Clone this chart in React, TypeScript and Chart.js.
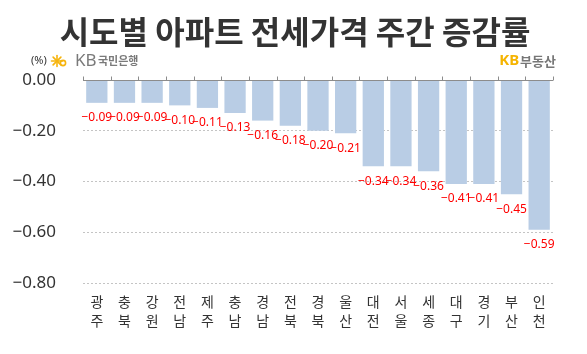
import React, { useEffect, useRef } from "react";
import { Chart, registerables } from "chart.js";

Chart.register(...registerables);

const TITLE = "시도별 아파트 전세가격 주간 증감률";
const REGIONS = ["광주", "충북", "강원", "전남", "제주", "충남", "경남", "전북", "경북", "울산", "대전", "서울", "세종", "대구", "경기", "부산", "인천"];
const VALUES = [-0.09, -0.09, -0.09, -0.1, -0.11, -0.13, -0.16, -0.18, -0.2, -0.21, -0.34, -0.34, -0.36, -0.41, -0.41, -0.45, -0.59];
const Y_MIN = -0.8;
const Y_MAX = 0;
const Y_STEP = 0.2;

const fmt = (v: number) => (v < 0 ? "\u2212" : "") + Math.abs(v).toFixed(2);

const W = 587;
const H = 354;

const headerPlugin = {
  id: "header",
  afterDraw(chart: any) {
    const ctx = chart.ctx;
    ctx.save();
    // title
    ctx.fillStyle = "#333333";
    ctx.font = "bold 32px 'Noto Sans CJK KR'";
    ctx.textAlign = "center";
    ctx.textBaseline = "middle";
    ctx.fillText(TITLE, 295, 32);

    // (%) label
    ctx.font = "11px 'Noto Sans'";
    ctx.fillStyle = "#333";
    ctx.textAlign = "left";
    ctx.fillText("(%)", 31, 61);

    // KB star logo
    const cx = 57, cy = 61;
    ctx.strokeStyle = "#f6b40e";
    ctx.lineWidth = 1.6;
    ctx.lineCap = "round";
    for (let i = 0; i < 4; i++) {
      const a = (Math.PI / 4) * i;
      ctx.beginPath();
      ctx.moveTo(cx - Math.cos(a) * 5.5, cy - Math.sin(a) * 5.5);
      ctx.lineTo(cx + Math.cos(a) * 5.5, cy + Math.sin(a) * 5.5);
      ctx.stroke();
    }
    ctx.beginPath();
    ctx.arc(cx + 6, cy + 2, 2.6, 0, Math.PI * 2);
    ctx.stroke();

    ctx.fillStyle = "#7a7a7a";
    ctx.font = "17px 'Noto Sans'";
    ctx.fillText("KB", 75, 61);
    ctx.font = "bold 11px 'Noto Sans CJK KR'";
    ctx.fillText("국민은행", 98, 61);

    // KB부동산
    ctx.textAlign = "right";
    ctx.fillStyle = "#777";
    ctx.font = "bold 13px 'Noto Sans CJK KR'";
    ctx.fillText("부동산", 556, 61);
    const w = ctx.measureText("부동산").width;
    ctx.fillStyle = "#f5b400";
    ctx.font = "bold 15px 'Noto Sans'";
    ctx.fillText("KB", 556 - w - 1, 61);
    ctx.restore();
  },
};

const axisPlugin = {
  id: "zeroAxis",
  afterDatasetsDraw(chart: any) {
    const ctx = chart.ctx;
    const { left, right } = chart.chartArea;
    const y0 = Math.round(chart.scales.y.getPixelForValue(0)) + 0.5;
    ctx.save();
    ctx.strokeStyle = "#8c8c8c";
    ctx.lineWidth = 1;
    ctx.beginPath();
    ctx.moveTo(left, y0);
    ctx.lineTo(right, y0);
    const n = REGIONS.length;
    for (let i = 0; i <= n; i++) {
      const x = Math.round(left + ((right - left) * i) / n) + 0.5;
      ctx.moveTo(x, y0);
      ctx.lineTo(x, y0 - 4);
    }
    ctx.stroke();

    // value labels
    const meta = chart.getDatasetMeta(0);
    ctx.fillStyle = "#ff0000";
    ctx.font = "12px 'Noto Sans'";
    ctx.textAlign = "center";
    ctx.textBaseline = "middle";
    meta.data.forEach((el: any, i: number) => {
      ctx.fillText(fmt(VALUES[i]), el.x, el.y + 15);
    });
    ctx.restore();
  },
};

export default function App() {
  const ref = useRef<HTMLCanvasElement | null>(null);
  useEffect(() => {
    document.body.style.margin = "0";
    const canvas = ref.current!;
    const chart = new Chart(canvas, {
      type: "bar",
      data: {
        labels: REGIONS.map((r) => r.split("")),
        datasets: [
          {
            data: VALUES,
            backgroundColor: "#b9cde5",
            barPercentage: 0.77,
            categoryPercentage: 1,
          },
        ],
      },
      options: {
        animation: false,
        responsive: false,
        maintainAspectRatio: false,
        layout: { padding: { top: 80, right: 34, left: 0, bottom: 0 } },
        plugins: {
          legend: { display: false },
          tooltip: { enabled: false },
          title: { display: false },
        },
        scales: {
          x: {
            grid: { display: false, drawTicks: false },
            border: { display: false },
            ticks: {
              color: "#333",
              font: { family: "'Noto Sans CJK KR'", size: 14, lineHeight: 1.3 },
              padding: 10,
              maxRotation: 0,
              autoSkip: false,
            },
            afterFit(scale: any) {
              scale.height = H - 283;
            },
          },
          y: {
            min: Y_MIN,
            max: Y_MAX,
            ticks: {
              stepSize: Y_STEP,
              color: "#333",
              font: { family: "'Noto Sans'", size: 17 },
              padding: 27,
              callback: (v: any) => fmt(Number(v)),
            },
            grid: {
              drawTicks: false,
              color: (c: any) => (c.tick && c.tick.value === 0 ? "rgba(0,0,0,0)" : "#c4c4c4"),
            },
            border: { display: false, dash: [2, 2] },
            afterFit(scale: any) {
              scale.width = 83;
            },
          },
        },
      },
      plugins: [headerPlugin, axisPlugin],
    });
    return () => chart.destroy();
  }, []);
  return (
    <div style={{ position: "fixed", left: 0, top: 0, width: W, height: H, background: "#fff" }}>
      <canvas ref={ref} width={W} height={H} style={{ width: W, height: H, display: "block" }} />
    </div>
  );
}
